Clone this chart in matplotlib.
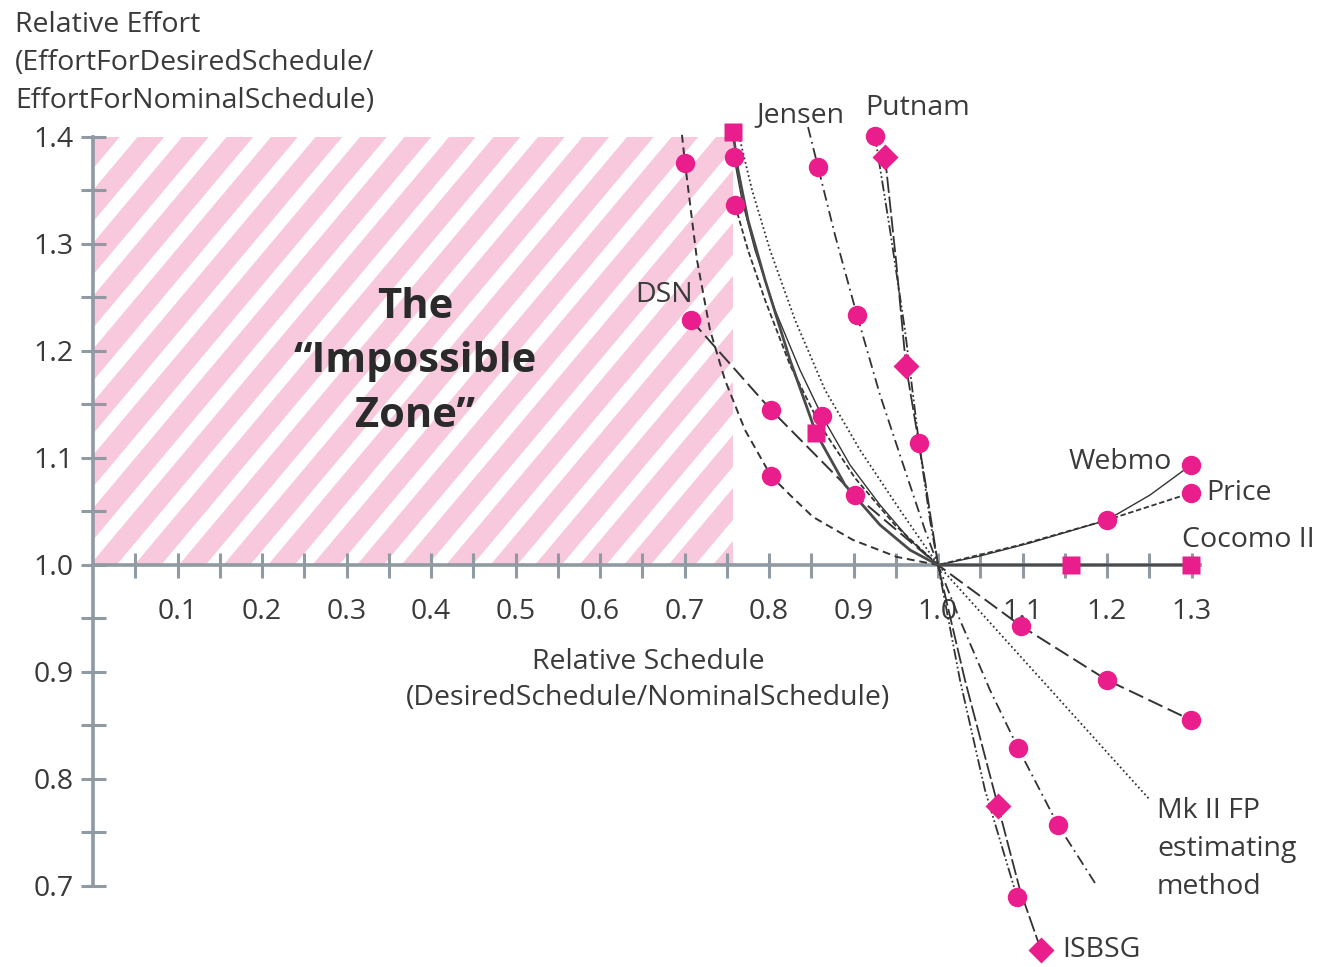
import matplotlib.pyplot as plt
from matplotlib.patches import Polygon, Rectangle
import numpy as np

plt.rcParams["font.family"] = ["Open Sans", "DejaVu Sans"]

# ---- values (relative schedule, relative effort) ----
curve_a_x = [0.697, 0.7006, 0.7148, 0.7302, 0.7479, 0.7716, 0.8024, 0.8249, 0.8521, 0.8994, 0.9515, 1.0]
curve_a_y = [1.402, 1.3757, 1.285, 1.2196, 1.1729, 1.1262, 1.0832, 1.0654, 1.0449, 1.0234, 1.0075, 1.0]
curve_a_mx = [0.7006, 0.8024]
curve_a_my = [1.3757, 1.0832]

dsn_x = [0.7077, 0.8024, 0.9018, 1.0, 1.0982, 1.2, 1.2994]
dsn_y = [1.229, 1.1449, 1.0654, 1.0, 0.943, 0.8925, 0.8551]
dsn_mx = [0.7077, 0.8024, 0.9018, 1.0982, 1.2, 1.2994]
dsn_my = [1.229, 1.1449, 1.0654, 0.943, 0.8925, 0.8551]

cocomo_x = [0.7574, 0.7633, 0.7751, 0.7953, 0.8249, 0.8556, 0.8899, 0.9314, 0.9669, 1.0, 1.1574, 1.2994]
cocomo_y = [1.4047, 1.3692, 1.3224, 1.2664, 1.1916, 1.1234, 1.0748, 1.0374, 1.014, 1.0, 1.0, 1.0]
cocomo_mx = [0.7574, 0.8556, 1.1574, 1.2994]
cocomo_my = [1.4047, 1.1234, 1.0, 1.0]

webmo_x = [0.7586, 0.768, 0.7834, 0.8071, 0.8367, 0.8627, 0.8959, 0.9314, 0.9669, 1.0, 1.0497, 1.1089, 1.2, 1.2509, 1.2994]
webmo_y = [1.3813, 1.3411, 1.2944, 1.2383, 1.1822, 1.1393, 1.0935, 1.0561, 1.0234, 1.0, 1.0084, 1.0206, 1.042, 1.0654, 1.0935]
webmo_mx = [0.7586, 0.8627, 1.2, 1.2994]
webmo_my = [1.3813, 1.1393, 1.042, 1.0935]

price_x = [0.7598, 0.7751, 0.7953, 0.8249, 0.8604, 0.9018, 0.9491, 1.0, 1.097, 1.2, 1.2994]
price_y = [1.3364, 1.2944, 1.2477, 1.1869, 1.1308, 1.0813, 1.0374, 1.0, 1.0187, 1.042, 1.0673]
price_mx = [0.7598, 1.2994]
price_my = [1.3364, 1.0673]

mk2_x = [0.7657, 0.7799, 0.8012, 0.8308, 0.8663, 0.9077, 0.955, 1.0, 1.2509]
mk2_y = [1.3972, 1.3505, 1.2944, 1.229, 1.1636, 1.1075, 1.0514, 1.0, 0.7804]

jensen_x = [0.8462, 0.858, 0.8781, 0.9041, 0.9314, 0.9609, 0.9846, 1.0, 1.026, 1.0615, 1.0947, 1.142, 1.1858]
jensen_y = [1.4093, 1.372, 1.3084, 1.2336, 1.1589, 1.0888, 1.0327, 1.0, 0.9486, 0.8832, 0.829, 0.757, 0.7028]
jensen_mx = [0.858, 0.9041, 1.0947, 1.142]
jensen_my = [1.372, 1.2336, 0.829, 0.757]

putnam_x = [0.9254, 0.9432, 0.9609, 0.9775, 0.9905, 1.0, 1.026, 1.0556, 1.0935]
putnam_y = [1.4009, 1.3131, 1.2196, 1.114, 1.0421, 1.0, 0.8925, 0.7897, 0.6897]
putnam_mx = [0.9254, 0.9775, 1.0935]
putnam_my = [1.4009, 1.114, 0.6897]

isbsg_x = [0.9373, 0.9503, 0.9621, 0.9846, 1.0, 1.0319, 1.071, 1.097, 1.1219]
isbsg_y = [1.3813, 1.285, 1.186, 1.0794, 1.0, 0.8925, 0.7748, 0.6963, 0.6402]
isbsg_mx = [0.9373, 0.9621, 1.071, 1.1219]
isbsg_my = [1.3813, 1.186, 0.7748, 0.6402]

zone_right = 0.7574
zone_top = 1.4

W, H = 1321, 967
X0, XS = 93, 845    # pixel of x=0, pixels per unit
Y0, YS = 565, 1070  # pixel of y=1, pixels per unit
PINK = "#e91e8c"
INK = "#3a3a3a"
AXIS = "#8f9aa3"

fig = plt.figure(figsize=(W / 100, H / 100), dpi=100)
ax = fig.add_axes([0, 0, 1, 1])
ax.set_xlim(-X0 / XS, (W - X0) / XS)
ax.set_ylim(1 - (H - Y0) / YS, 1 + Y0 / YS)

# striped "impossible zone"
clip = Rectangle((0, 1.0), zone_right, zone_top - 1.0, transform=ax.transData, visible=False)
ax.add_patch(clip)
period = 44.5 / XS
band = 0.6 * period
shift = (zone_top - 1.0) * YS / np.tan(np.radians(50)) / XS
for xs in np.arange(-shift - period, zone_right + period, period):
    stripe = Polygon([(xs, 1.0), (xs + band, 1.0), (xs + band + shift, zone_top), (xs + shift, zone_top)],
                     closed=True, facecolor="#f8c8dc", edgecolor="none", zorder=0)
    ax.add_patch(stripe)
    stripe.set_clip_path(clip)

# axes
for side in ("top", "right"):
    ax.spines[side].set_visible(False)
ax.spines["left"].set_position(("data", 0.0))
ax.spines["bottom"].set_position(("data", 1.0))
ax.spines["left"].set_bounds(0.7, 1.4)
ax.spines["bottom"].set_bounds(0.0, 1.31)
for side in ("left", "bottom"):
    ax.spines[side].set_color(AXIS)
    ax.spines[side].set_linewidth(2.6)
    ax.spines[side].set_zorder(1)

fs = 20.5
xt = np.round(np.arange(0.1, 1.31, 0.1), 2)
ax.set_xticks(xt)
ax.set_xticklabels([f"{v:.1f}" for v in xt])
ax.set_xticks(np.round(np.arange(0.05, 1.3, 0.1), 2), minor=True)
yt = np.round(np.arange(0.7, 1.41, 0.1), 2)
ax.set_yticks(yt)
ax.set_yticklabels([f"{v:.1f}" for v in yt])
ax.set_yticks(np.round(np.arange(0.75, 1.4, 0.1), 2), minor=True)
ax.tick_params(which="both", direction="inout", length=18, width=2.2, color=AXIS)
ax.tick_params(axis="x", which="major", pad=15, labelsize=fs, labelcolor=INK)
ax.tick_params(axis="y", which="major", pad=5, labelsize=fs, labelcolor=INK)

# curves
LINE = "#333333"
curves = [
    (curve_a_x, curve_a_y, (0, (4, 2.5)), 1.4, LINE),
    (dsn_x, dsn_y, (0, (8, 3)), 1.4, LINE),
    (webmo_x, webmo_y, "-", 1.0, LINE),
    (price_x, price_y, (0, (3, 1.5)), 1.3, LINE),
    (mk2_x, mk2_y, (0, (1, 1.5)), 1.3, LINE),
    (jensen_x, jensen_y, (0, (6, 2.5, 1, 2.5)), 1.3, LINE),
    (putnam_x, putnam_y, (0, (6, 1.5, 1, 1.5, 1, 1.5)), 1.3, LINE),
    (isbsg_x, isbsg_y, (0, (9, 2)), 1.3, LINE),
    (cocomo_x, cocomo_y, "-", 2.0, "#4a4a4a"),
]
for cx, cy, ls, lw, col in curves:
    ax.plot(cx, cy, linestyle=ls, linewidth=lw, color=col, zorder=3)

circles_x = curve_a_mx + dsn_mx + webmo_mx + price_mx + jensen_mx + putnam_mx
circles_y = curve_a_my + dsn_my + webmo_my + price_my + jensen_my + putnam_my
ax.plot(circles_x, circles_y, "o", ms=14, color=PINK, mec="none", zorder=4)
ax.plot(cocomo_mx, cocomo_my, "s", ms=12.5, color=PINK, mec="none", zorder=4)
ax.plot(isbsg_mx, isbsg_my, "D", ms=13, color=PINK, mec="none", zorder=4)


def fpos(xp, yp):
    return xp / W, 1 - yp / H


fig.text(*fpos(15, 63), "Relative Effort\n(EffortForDesiredSchedule/\nEffortForNominalSchedule)",
         ha="left", va="center", fontsize=fs, color=INK, linespacing=1.5)
fig.text(*fpos(648, 680), "Relative Schedule\n(DesiredSchedule/NominalSchedule)",
         ha="center", va="center", fontsize=fs, color=INK, linespacing=1.42)
fig.text(*fpos(415, 362), "The\n\u201cImpossible\nZone\u201d", ha="center", va="center",
         fontsize=30, fontweight="bold", color="#2a2a2a", linespacing=1.43)
labels = [
    ("Jensen", 800, 115, "center"),
    ("Putnam", 918, 108, "center"),
    ("DSN", 664, 295, "center"),
    ("Webmo", 1120, 462, "center"),
    ("Price", 1206, 493, "left"),
    ("Cocomo II", 1248, 540, "center"),
    ("ISBSG", 1062, 950, "left"),
]
for txt, xp, yp, ha in labels:
    fig.text(*fpos(xp, yp), txt, ha=ha, va="center", fontsize=fs, color=INK)
fig.text(*fpos(1157, 849), "Mk II FP\nestimating\nmethod", ha="left", va="center",
         fontsize=fs, color=INK, linespacing=1.46)

fig.savefig("out.png", dpi=100, facecolor="white")
